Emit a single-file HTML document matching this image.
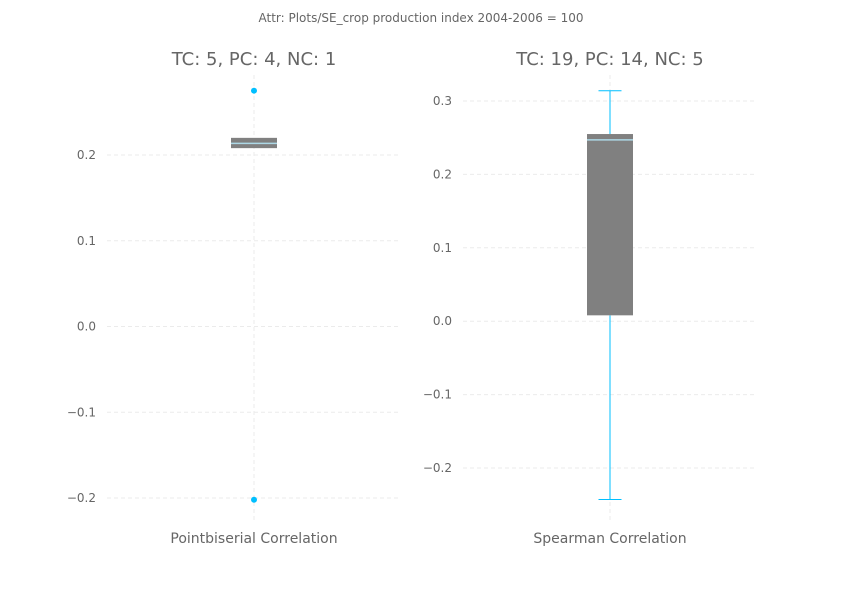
<!DOCTYPE html>
<html><head><meta charset="utf-8"><style>
body{margin:0;background:#fff;font-family:"DejaVu Sans","Liberation Sans",sans-serif;}
svg text{fill:#666;font-family:"DejaVu Sans","Liberation Sans",sans-serif;}
</style></head><body>
<svg width="842" height="595" xmlns="http://www.w3.org/2000/svg">
<text x="421" y="22" font-size="12" text-anchor="middle">Attr: Plots/SE_crop production index 2004-2006 = 100</text>
<g id="p1"></g>
<g id="p2"></g>
</svg>
<script>
const panelTitles=["TC: 5, PC: 4, NC: 1","TC: 19, PC: 14, NC: 5"];
const xLabels=["Pointbiserial Correlation","Spearman Correlation"];
const ticks1=[-0.2,-0.1,0.0,0.1,0.2];
const ticks2=[-0.2,-0.1,0.0,0.1,0.2,0.3];
// [whiskerLow, q1, median, q3, whiskerHigh]
const box1=[0.208,0.208,0.2135,0.22,0.22];
const outliers1=[0.275,-0.202];
const box2=[-0.243,0.008,0.247,0.255,0.314];
const outliers2=[];
const NS="http://www.w3.org/2000/svg";
function mk(p,t,a){const e=document.createElementNS(NS,t);for(const k in a)e.setAttribute(k,a[k]);p.appendChild(e);return e;}
function fmt(v){return (v<0?"\u2212":"")+Math.abs(v).toFixed(1);}
function draw(g,cfg){
 const y=v=>cfg.y0+(v-cfg.v0)*(cfg.y1-cfg.y0)/(cfg.v1-cfg.v0);
 const cx=(cfg.xl+cfg.xr)/2;
 mk(g,"line",{x1:cx,x2:cx,y1:cfg.top,y2:cfg.bot,stroke:"#ebebeb","stroke-dasharray":"4,3"});
 cfg.ticks.forEach(t=>{
  const gl=mk(g,"line",{x1:cfg.xl,x2:cfg.xr,y1:y(t),y2:y(t),stroke:"#ebebeb","stroke-dasharray":"4,3"});
  
  
  const tx=mk(g,"text",{x:cfg.xl-11,y:y(t)+4,"font-size":12,"text-anchor":"end"});
  tx.textContent=fmt(t);
  
  
 });
 const b=cfg.box,hw=23;
 if(b[0]<b[1]){const w=mk(g,"line",{x1:cx,x2:cx,y1:y(b[0]),y2:y(b[1]),stroke:"#00bfff"});
  mk(g,"line",{x1:cx-11.5,x2:cx+11.5,y1:y(b[0]),y2:y(b[0]),stroke:"#00bfff"});}
 if(b[4]>b[3]){const w=mk(g,"line",{x1:cx,x2:cx,y1:y(b[4]),y2:y(b[3]),stroke:"#00bfff"});
  mk(g,"line",{x1:cx-11.5,x2:cx+11.5,y1:y(b[4]),y2:y(b[4]),stroke:"#00bfff"});}
 const r=mk(g,"rect",{x:cx-hw,y:y(b[3]),width:2*hw,height:y(b[1])-y(b[3]),fill:"#808080"});
 
 
 const m=mk(g,"line",{x1:cx-hw,x2:cx+hw,y1:y(b[2]),y2:y(b[2]),stroke:"#add8e6","stroke-width":1.5});
 
 
 cfg.out.forEach(o=>{const c=mk(g,"circle",{cx:cx,cy:y(o),r:3,fill:"#00bfff"});
  
  });
 const t=mk(g,"text",{x:cx,y:65,"font-size":18,"text-anchor":"middle"});t.textContent=cfg.title;
 
 const xl=mk(g,"text",{x:cx,y:543,"font-size":14,"text-anchor":"middle"});xl.textContent=cfg.xlabel;
 
}
draw(document.getElementById("p1"),{xl:107,xr:401,top:75,bot:520,v0:0.2,y0:155,v1:-0.2,y1:498,ticks:ticks1,box:box1,out:outliers1,title:panelTitles[0],xlabel:xLabels[0]});
draw(document.getElementById("p2"),{xl:463,xr:757,top:75,bot:520,v0:0.3,y0:101,v1:-0.2,y1:468,ticks:ticks2,box:box2,out:outliers2,title:panelTitles[1],xlabel:xLabels[1]});
</script>
</body></html>
